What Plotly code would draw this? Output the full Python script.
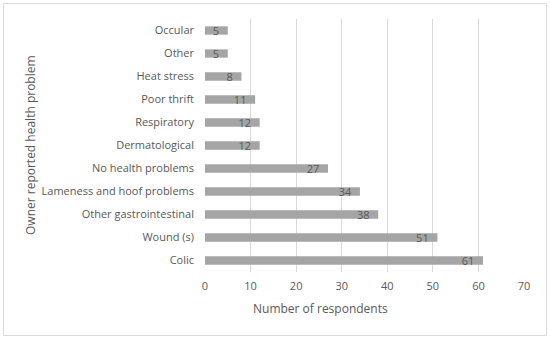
import plotly.graph_objects as go

categories = ["Colic", "Wound (s)", "Other gastrointestinal", "Lameness and hoof problems",
              "No health problems", "Dermatological", "Respiratory", "Poor thrift",
              "Heat stress", "Other", "Occular"]
values = [61, 51, 38, 34, 27, 12, 12, 11, 8, 5, 5]
x_ticks = [0, 10, 20, 30, 40, 50, 60, 70]

W, H = 550, 338
L, R, T, B = 205, 26, 19, 66
pw, ph = W - L - R, H - T - B

FONT = "Open Sans"
PAD = "\u00a0\u00a0"

fig = go.Figure(go.Bar(
    y=categories, x=values, orientation="h",
    marker=dict(color="#a5a5a5", line=dict(width=0)),
    width=0.36,
    text=[f"{v}{PAD}" for v in values], textposition="inside", insidetextanchor="end",
    constraintext="none", textangle=0,
    textfont=dict(family=FONT, size=11, color="#595959"),
    cliponaxis=False,
))

def px(xp):
    return (xp - L) / pw

def py(yp):
    return (H - B - yp) / ph

fig.update_layout(
    width=W, height=H,
    margin=dict(l=L, r=R, t=T, b=B),
    paper_bgcolor="white", plot_bgcolor="white",
    showlegend=False,
    xaxis=dict(range=[0, 70], tickvals=x_ticks, showgrid=True, gridcolor="#d9d9d9", gridwidth=1,
               zeroline=False, showline=False,
               tickfont=dict(family=FONT, size=11, color="#595959"), ticklabelstandoff=6,
               fixedrange=True),
    yaxis=dict(type="category", categoryorder="array", categoryarray=categories,
               showgrid=False, zeroline=False, showline=False,
               tickfont=dict(family=FONT, size=11, color="#595959"), ticklabelstandoff=10,
               range=[-0.5, len(categories) - 0.5], fixedrange=True),
    shapes=[dict(type="rect", xref="paper", yref="paper",
                 x0=px(3.5), x1=px(546.5), y0=py(335.5), y1=py(3.5),
                 line=dict(color="#d9d9d9", width=1), layer="below")],
    annotations=[
        dict(text="Number of respondents", xref="paper", yref="paper", x=px(320), y=py(308),
             showarrow=False, xanchor="center", yanchor="middle",
             font=dict(family=FONT, size=12, color="#595959")),
        dict(text="Owner reported health problem", xref="paper", yref="paper", x=px(30), y=py(145),
             showarrow=False, xanchor="center", yanchor="middle", textangle=-90,
             font=dict(family=FONT, size=12, color="#595959")),
    ],
)

fig.write_html("out.html", config={"displayModeBar": False},
               post_script="document.body.style.margin='0';document.body.style.overflow='hidden';")
